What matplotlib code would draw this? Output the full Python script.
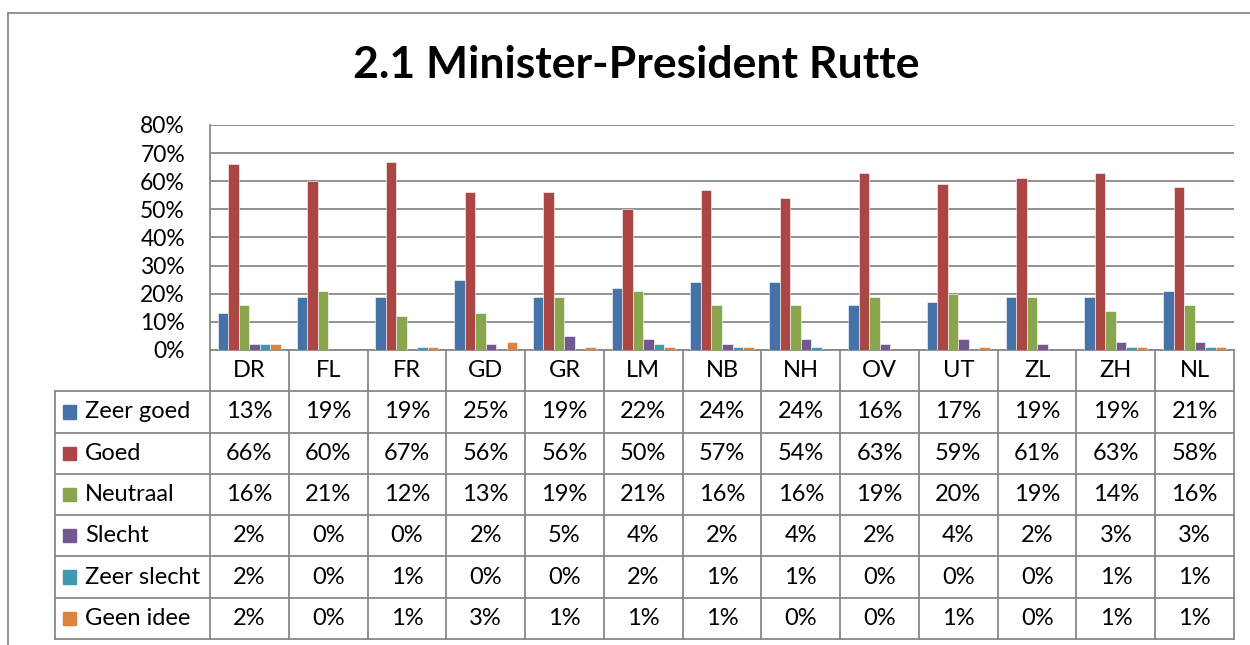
import matplotlib.pyplot as plt
from matplotlib.patches import Rectangle
from matplotlib.lines import Line2D

# -------------------------
# Data
# -------------------------
regions = ['DR', 'FL', 'FR', 'GD', 'GR', 'LM', 'NB', 'NH', 'OV', 'UT', 'ZL', 'ZH', 'NL']
series_names = ['Zeer goed', 'Goed', 'Neutraal', 'Slecht', 'Zeer slecht', 'Geen idee']

zeer_goed = [13, 19, 19, 25, 19, 22, 24, 24, 16, 17, 19, 19, 21]
goed = [66, 60, 67, 56, 56, 50, 57, 54, 63, 59, 61, 63, 58]
neutraal = [16, 21, 12, 13, 19, 21, 16, 16, 19, 20, 19, 14, 16]
slecht = [2, 0, 0, 2, 5, 4, 2, 4, 2, 4, 2, 3, 3]
zeer_slecht = [2, 0, 1, 0, 0, 2, 1, 1, 0, 0, 0, 1, 1]
geen_idee = [2, 0, 1, 3, 1, 1, 1, 0, 0, 1, 0, 1, 1]

series = [zeer_goed, goed, neutraal, slecht, zeer_slecht, geen_idee]
colors = ['#4572A7', '#AA4643', '#89A54E', '#71588F', '#4198AF', '#DB843D']

plt.rcParams['font.family'] = ['Lato', 'DejaVu Sans']
grid_col = '#888888'

W, H = 1250, 645
fig = plt.figure(figsize=(12.5, 6.45), dpi=100)

# -------------------------
# Outer frame
# -------------------------
fx0, fy0 = 8 / W, 1 - 13 / H
fig.add_artist(Line2D([fx0, 1], [fy0, fy0], color=grid_col, lw=1.3, transform=fig.transFigure))
fig.add_artist(Line2D([fx0, fx0], [0, fy0], color=grid_col, lw=1.3, transform=fig.transFigure))

fig.text(636 / W, 1 - 65 / H, '2.1 Minister-President Rutte', ha='center', va='center',
         fontsize=32, fontweight='bold')

# -------------------------
# Bar chart
# -------------------------
px_l, px_r, px_t, px_b = 210, 1234, 125, 350
ax = fig.add_axes([px_l / W, 1 - px_b / H, (px_r - px_l) / W, (px_b - px_t) / H])

n = len(regions)
bw = 0.8 / 6
for i, (vals, c) in enumerate(zip(series, colors)):
    xs = [k - 0.4 + bw * (i + 0.5) for k in range(n)]
    ax.bar(xs, vals, width=bw, color=c, edgecolor='white', linewidth=0.4, zorder=3)

ax.set_xlim(-0.5, n - 0.5)
ax.set_ylim(0, 80)
ax.set_yticks(range(0, 81, 10))
ax.set_yticklabels([f'{v}%' for v in range(0, 81, 10)], fontsize=16.5)
ax.set_xticks([])
ax.tick_params(axis='y', length=0, pad=18)
ax.grid(axis='y', color=grid_col, lw=1.3, zorder=0)
for s in ['top', 'right']:
    ax.spines[s].set_visible(False)
for s in ['left', 'bottom']:
    ax.spines[s].set_color(grid_col)
    ax.spines[s].set_linewidth(1.3)

# -------------------------
# Data table
# -------------------------
tb_l, tb_b = 55, 639
tax = fig.add_axes([tb_l / W, 1 - tb_b / H, (px_r - tb_l) / W, (tb_b - px_b) / H])
cat_px = (px_r - px_l) / n
leg_w = (px_l - tb_l) / cat_px
tax.set_xlim(-0.5 - leg_w, n - 0.5)
tax.set_ylim(0, 7)
tax.axis('off')

# vertical lines between region columns
for k in range(n + 1):
    tax.plot([k - 0.5, k - 0.5], [0, 7], color=grid_col, lw=1.3, clip_on=False)
tax.plot([-0.5 - leg_w, -0.5 - leg_w], [0, 6], color=grid_col, lw=1.3, clip_on=False)
# horizontal lines
for r in range(7):
    tax.plot([-0.5 - leg_w, n - 0.5], [r, r], color=grid_col, lw=1.3, clip_on=False)

for k, reg in enumerate(regions):
    tax.text(k, 6.5, reg, ha='center', va='center', fontsize=17)

sq = 13 / cat_px
for r, (name, vals, c) in enumerate(zip(series_names, series, colors)):
    yc = 5.5 - r
    x0 = -0.5 - leg_w + 8 / cat_px
    tax.add_patch(Rectangle((x0, yc - 0.16), sq, 0.32, color=c, clip_on=False))
    tax.text(x0 + sq + 9 / cat_px, yc, name, ha='left', va='center', fontsize=17)
    for k, v in enumerate(vals):
        tax.text(k, yc, f'{v}%', ha='center', va='center', fontsize=17)

plt.savefig('out.png', dpi=100)
